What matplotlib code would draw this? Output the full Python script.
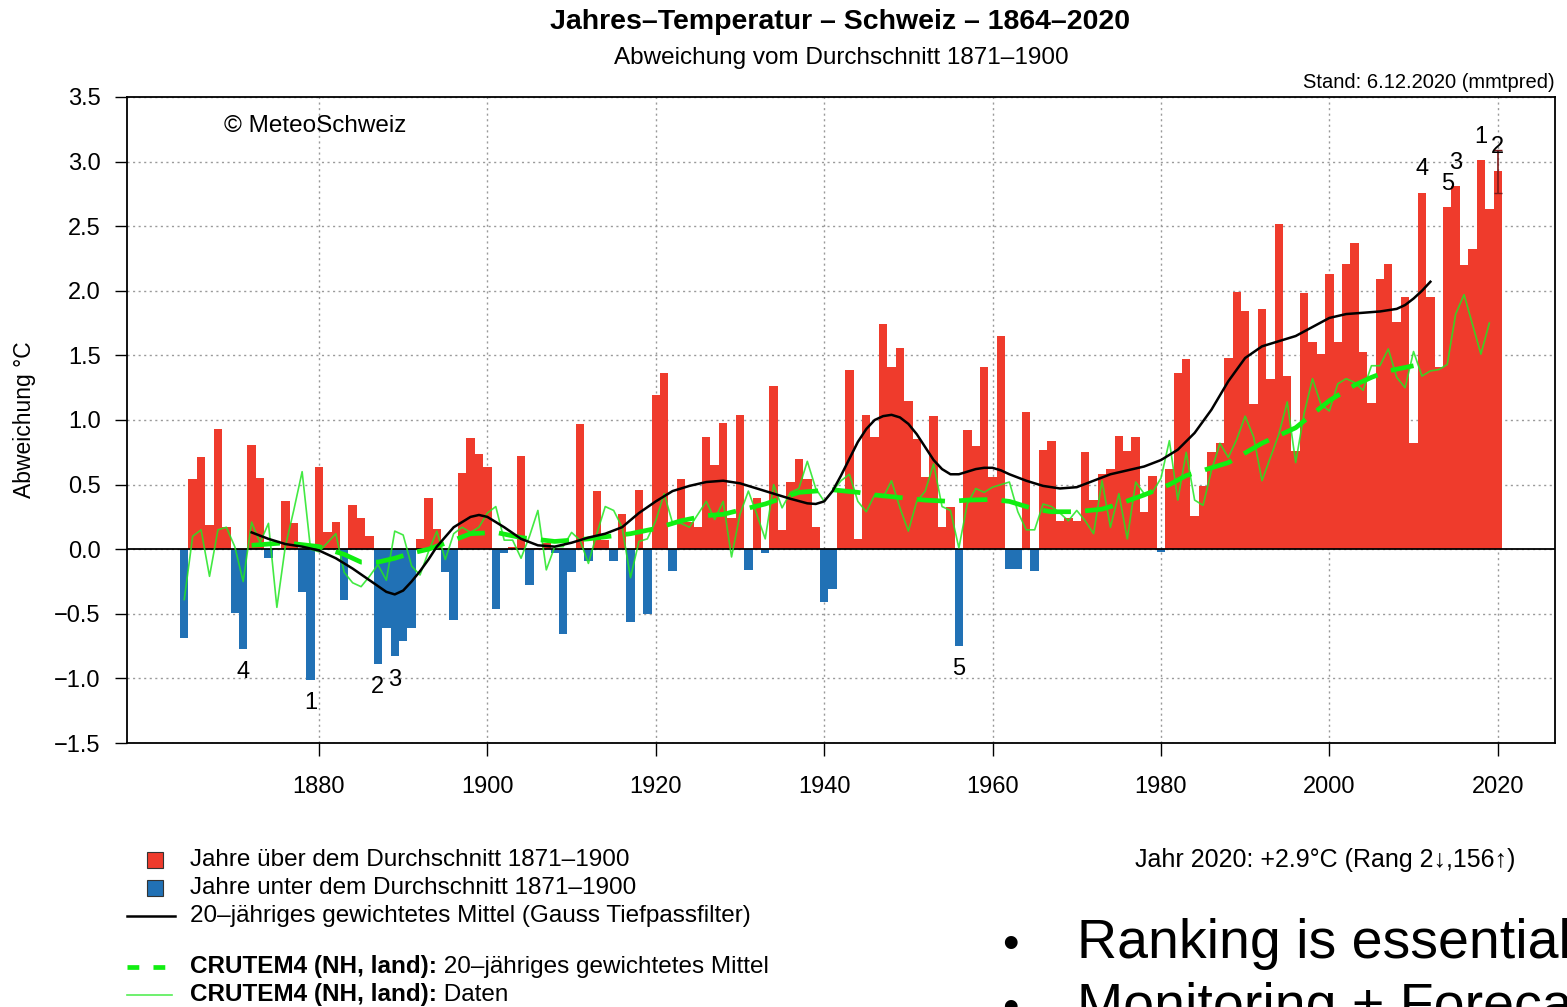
import numpy as np
import matplotlib
matplotlib.use('Agg')
import matplotlib.pyplot as plt
from matplotlib.patches import Rectangle
from matplotlib.lines import Line2D
from matplotlib.ticker import FuncFormatter, MultipleLocator

plt.rcParams['font.family'] = ['Liberation Sans', 'DejaVu Sans']

# Jahresabweichung Schweiz vom Mittel 1871-1900
years = np.arange(1864, 2021)
anomaly = [
    -0.69, 0.54, 0.71, 0.19, 0.93, 0.17,                                # 1864-1869
    -0.49, -0.77, 0.81, 0.55, -0.07, 0.01, 0.37, 0.20, -0.33, -1.01,    # 1870-1879
    0.64, 0.13, 0.21, -0.39, 0.34, 0.24, 0.10, -0.89, -0.61, -0.83,     # 1880-1889
    -0.71, -0.61, 0.08, 0.40, 0.16, -0.18, -0.55, 0.59, 0.86, 0.74,     # 1890-1899
    0.64, -0.46, -0.03, 0.02, 0.72, -0.28, 0.01, 0.05, -0.03, -0.66,    # 1900-1909
    -0.18, 0.97, -0.09, 0.45, 0.07, -0.09, 0.27, -0.56, 0.46, -0.50,    # 1910-1919
    1.19, 1.36, -0.17, 0.54, 0.21, 0.17, 0.87, 0.65, 0.98, 0.24,        # 1920-1929
    1.04, -0.16, 0.40, -0.03, 1.26, 0.15, 0.52, 0.70, 0.54, 0.17,       # 1930-1939
    -0.41, -0.31, 0.45, 1.39, 0.08, 1.04, 0.87, 1.74, 1.41, 1.56,       # 1940-1949
    1.15, 0.85, 0.56, 1.03, 0.17, 0.33, -0.75, 0.92, 0.80, 1.41,        # 1950-1959
    0.56, 1.65, -0.15, -0.15, 1.06, -0.17, 0.77, 0.84, 0.22, 0.24,      # 1960-1969
    0.22, 0.75, 0.38, 0.58, 0.62, 0.88, 0.76, 0.87, 0.29, 0.57,         # 1970-1979
    -0.02, 0.62, 1.36, 1.47, 0.26, 0.49, 0.75, 0.82, 1.48, 1.99,        # 1980-1989
    1.84, 1.12, 1.86, 1.32, 2.52, 1.34, 0.76, 1.98, 1.60, 1.51,         # 1990-1999
    2.13, 1.60, 2.21, 2.37, 1.53, 1.13, 2.09, 2.21, 1.76, 1.95,         # 2000-2009
    0.82, 2.76, 1.95, 1.41, 2.65, 2.81, 2.20, 2.32, 3.01, 2.63,         # 2010-2019
    2.93,                                                               # 2020
]

# 20-jaehriges Gauss-Mittel Schweiz
smooth_years = [1872, 1874, 1876, 1878, 1880, 1882, 1884, 1886, 1888, 1889,
                1890, 1891, 1892, 1893, 1894, 1896, 1898, 1899, 1900, 1902,
                1904, 1906, 1908, 1910, 1912, 1914, 1916, 1918, 1920, 1922,
                1924, 1926, 1928, 1930, 1932, 1934, 1936, 1938, 1939, 1940,
                1941, 1942, 1943, 1944, 1945, 1946, 1947, 1948, 1949, 1950,
                1951, 1952, 1953, 1954, 1955, 1956, 1957, 1958, 1959, 1960,
                1961, 1962, 1964, 1966, 1968, 1970, 1972, 1974, 1976, 1978,
                1980, 1982, 1984, 1986, 1988, 1990, 1992, 1994, 1996, 1998,
                2000, 2002, 2004, 2006, 2008, 2009, 2010, 2011, 2012]
smooth_vals = [0.13, 0.08, 0.04, 0.02, -0.01, -0.07, -0.15, -0.24, -0.33, -0.35,
               -0.32, -0.25, -0.17, -0.08, 0.02, 0.17, 0.25, 0.265, 0.25, 0.17,
               0.08, 0.03, 0.02, 0.05, 0.09, 0.12, 0.17, 0.28, 0.37, 0.45,
               0.49, 0.52, 0.53, 0.51, 0.47, 0.43, 0.39, 0.355, 0.35, 0.37,
               0.45, 0.57, 0.70, 0.83, 0.93, 1.00, 1.03, 1.04, 1.02, 0.97,
               0.89, 0.79, 0.69, 0.62, 0.58, 0.58, 0.60, 0.62, 0.63, 0.63,
               0.61, 0.58, 0.53, 0.49, 0.47, 0.48, 0.53, 0.58, 0.61, 0.64,
               0.69, 0.77, 0.90, 1.08, 1.30, 1.48, 1.57, 1.61, 1.65, 1.72,
               1.79, 1.82, 1.83, 1.84, 1.86, 1.89, 1.94, 2.00, 2.07]

# CRUTEM4 NH Land, Jahreswerte
cru_years = np.arange(1864, 2020)
cru_vals = [
    -0.39, 0.10, 0.15, -0.21, 0.15, 0.17,                               # 1864-1869
    0.02, -0.25, 0.21, 0.05, 0.20, -0.45, 0.02, 0.30, 0.60, 0.00,       # 1870-1879
    -0.02, 0.05, 0.12, -0.18, -0.26, -0.29, -0.21, -0.12, -0.24, 0.14,  # 1880-1889
    0.11, -0.13, -0.20, -0.02, 0.14, -0.08, 0.12, 0.17, 0.13, 0.17,     # 1890-1899
    0.28, 0.33, 0.07, 0.07, -0.07, 0.10, 0.30, -0.16, 0.02, 0.02,       # 1900-1909
    0.13, 0.07, -0.11, 0.12, 0.33, 0.30, 0.17, -0.22, 0.06, 0.08,       # 1910-1919
    0.22, 0.43, 0.20, 0.20, 0.17, 0.27, 0.37, 0.23, 0.37, -0.06,        # 1920-1929
    0.27, 0.45, 0.27, 0.08, 0.50, 0.32, 0.44, 0.47, 0.68, 0.47,         # 1930-1939
    0.37, 0.45, 0.53, 0.58, 0.37, 0.29, 0.42, 0.40, 0.53, 0.32,         # 1940-1949
    0.14, 0.37, 0.45, 0.66, 0.33, 0.30, 0.01, 0.35, 0.47, 0.44,         # 1950-1959
    0.48, 0.50, 0.52, 0.29, 0.15, 0.15, 0.35, 0.33, 0.28, 0.22,         # 1960-1969
    0.30, 0.22, 0.12, 0.53, 0.17, 0.43, 0.08, 0.52, 0.43, 0.44,         # 1970-1979
    0.55, 0.84, 0.38, 0.75, 0.38, 0.34, 0.61, 0.82, 0.71, 0.85,         # 1980-1989
    1.03, 0.87, 0.53, 0.71, 0.89, 1.14, 0.67, 1.05, 1.32, 1.12,         # 1990-1999
    1.07, 1.28, 1.32, 1.29, 1.23, 1.42, 1.42, 1.55, 1.33, 1.25,         # 2000-2009
    1.53, 1.34, 1.38, 1.39, 1.43, 1.82, 1.97, 1.74, 1.51, 1.75,         # 2010-2019
]

# CRUTEM4 20-jaehriges Mittel
cru_smooth_years = [1872, 1876, 1880, 1883, 1885, 1887, 1889, 1891, 1893, 1896,
                    1898, 1901, 1904, 1908, 1912, 1917, 1920, 1923, 1926, 1928,
                    1933, 1937, 1941, 1944, 1946, 1949, 1952, 1955, 1957, 1960,
                    1962, 1965, 1967, 1970, 1973, 1975, 1978, 1981, 1983, 1988,
                    1992, 1996, 2000, 2003, 2005, 2007, 2010]
cru_smooth_vals = [0.03, 0.05, 0.02, -0.04, -0.10, -0.10, -0.07, -0.03, 0.00, 0.07,
                   0.12, 0.13, 0.09, 0.06, 0.08, 0.12, 0.16, 0.22, 0.26, 0.27,
                   0.35, 0.44, 0.46, 0.44, 0.42, 0.40, 0.38, 0.37, 0.38, 0.385,
                   0.37, 0.31, 0.29, 0.29, 0.31, 0.35, 0.42, 0.50, 0.57, 0.67,
                   0.82, 0.94, 1.15, 1.27, 1.33, 1.38, 1.42]

warm_rank_years = [2018, 2020, 2015, 2011, 2014]
cold_rank_years = [1879, 1887, 1889, 1871, 1956]
err_2020 = (2.76, 3.09)

W, H = 1567, 1007


def fx(px):
    return px / W


def fy(py):
    return 1 - py / H


red = '#ef3b2c'
blue = '#2171b5'

fig = plt.figure(figsize=(W / 100, H / 100), dpi=100)
ax = fig.add_axes([fx(127), fy(743), fx(1555) - fx(127), fy(97) - fy(743)])

anomaly = np.array(anomaly)
colors = [red if v >= 0 else blue for v in anomaly]
ax.bar(years, anomaly, width=1.0, color=colors, linewidth=0, zorder=2)
ax.axhline(0, color='black', lw=1.3, zorder=3)

ax.plot(cru_years, cru_vals, color='#22e622', lw=1.2, alpha=0.85, zorder=4)
ax.plot(cru_smooth_years, cru_smooth_vals, color='#11ee11', lw=3.4,
        dashes=(6, 3), zorder=5)
ax.plot(smooth_years, smooth_vals, color='black', lw=1.8, zorder=6)

lo, hi = err_2020
ax.errorbar([2020], [anomaly[-1]], yerr=[[anomaly[-1] - lo], [hi - anomaly[-1]]],
            fmt='none', ecolor='#7a1a1a', elinewidth=1.2, capsize=3, zorder=7)

for i, yr in enumerate(warm_rank_years):
    v = anomaly[yr - 1864]
    ax.text(yr, v + 0.18, str(i + 1), ha='center', va='center', fontsize=17, zorder=8)
for i, yr in enumerate(cold_rank_years):
    v = anomaly[yr - 1864]
    ax.text(yr, v - 0.18, str(i + 1), ha='center', va='center', fontsize=17, zorder=8)

ax.set_xlim(1857.2, 2026.8)
ax.set_ylim(-1.5, 3.5)
ax.set_xticks(range(1880, 2021, 20))
ax.yaxis.set_major_locator(MultipleLocator(0.5))
ax.yaxis.set_major_formatter(FuncFormatter(lambda v, p: ('%.1f' % v).replace('-', '\u2212')))
ax.tick_params(axis='both', direction='out', length=9, width=1.0, labelsize=17)
ax.tick_params(axis='y', pad=10)
ax.tick_params(axis='x', pad=15)
ax.grid(True, color='#9a9a9a', linestyle=(0, (1.5, 2.5)), lw=1.0)
ax.set_axisbelow(True)
for s in ax.spines.values():
    s.set_linewidth(1.3)

ax.text(0.068, 0.955, '\u00a9 MeteoSchweiz', transform=ax.transAxes,
        fontsize=17.5, va='center', ha='left')

fig.text(fx(25), fy(420), 'Abweichung \u00b0C', rotation=90, ha='center',
         va='center', fontsize=16.5)
fig.text(fx(840), fy(22), 'Jahres\u2013Temperatur \u2013 Schweiz \u2013 1864\u20132020',
         ha='center', va='center', fontsize=20.5, fontweight='bold')
fig.text(fx(841), fy(58), 'Abweichung vom Durchschnitt 1871\u20131900',
         ha='center', va='center', fontsize=17.5)
fig.text(fx(1555), fy(83), 'Stand: 6.12.2020 (mmtpred)', ha='right',
         va='center', fontsize=14.5)

# Legende unten
fs_leg = 17.5
fig.add_artist(Rectangle((fx(147), fy(868)), fx(16), fy(852) - fy(868),
                         transform=fig.transFigure, facecolor=red,
                         edgecolor='#333333', lw=0.8))
fig.add_artist(Rectangle((fx(147), fy(896)), fx(16), fy(880) - fy(896),
                         transform=fig.transFigure, facecolor=blue,
                         edgecolor='#333333', lw=0.8))
fig.add_artist(Line2D([fx(127), fx(175)], [fy(916), fy(916)],
                      transform=fig.transFigure, color='black', lw=1.8))
fig.add_artist(Line2D([fx(127), fx(175)], [fy(967), fy(967)],
                      transform=fig.transFigure, color='#11ee11', lw=3.4,
                      dashes=(2.5, 3)))
fig.add_artist(Line2D([fx(127), fx(172)], [fy(995), fy(995)],
                      transform=fig.transFigure, color='#55ee55', lw=1.2))

fig.text(fx(190), fy(860), 'Jahre \u00fcber dem Durchschnitt 1871\u20131900',
         va='center', fontsize=fs_leg)
fig.text(fx(190), fy(888), 'Jahre unter dem Durchschnitt 1871\u20131900',
         va='center', fontsize=fs_leg)
fig.text(fx(190), fy(916), '20\u2013j\u00e4hriges gewichtetes Mittel (Gauss Tiefpassfilter)',
         va='center', fontsize=fs_leg)

b1 = fig.text(fx(190), fy(973), 'CRUTEM4 (NH, land):', va='baseline',
              fontsize=fs_leg, fontweight='bold')
b2 = fig.text(fx(190), fy(1001), 'CRUTEM4 (NH, land):', va='baseline',
              fontsize=fs_leg, fontweight='bold')
fig.canvas.draw()
r = fig.canvas.get_renderer()
x1 = b1.get_window_extent(r).x1 / W
fig.text(x1, fy(973), ' 20\u2013j\u00e4hriges gewichtetes Mittel', va='baseline',
         fontsize=fs_leg)
fig.text(x1, fy(1001), ' Daten', va='baseline', fontsize=fs_leg)

fig.text(fx(1515), fy(860), 'Jahr 2020: +2.9\u00b0C (Rang 2\u2193,156\u2191)',
         ha='right', va='center', fontsize=18)

# Folientext, der ins Bild ragt (wie in der Vorlage am Rand abgeschnitten)
fig.text(fx(1002), fy(958), '\u2022', fontsize=34, va='baseline')
fig.text(fx(1077), fy(958), 'Ranking is essential', fontsize=40, va='baseline')
fig.text(fx(1002), fy(1022), '\u2022', fontsize=34, va='baseline')
fig.text(fx(1077), fy(1022), 'Monitoring + Forecasting', fontsize=40, va='baseline')

fig.savefig('out.png', dpi=100)
